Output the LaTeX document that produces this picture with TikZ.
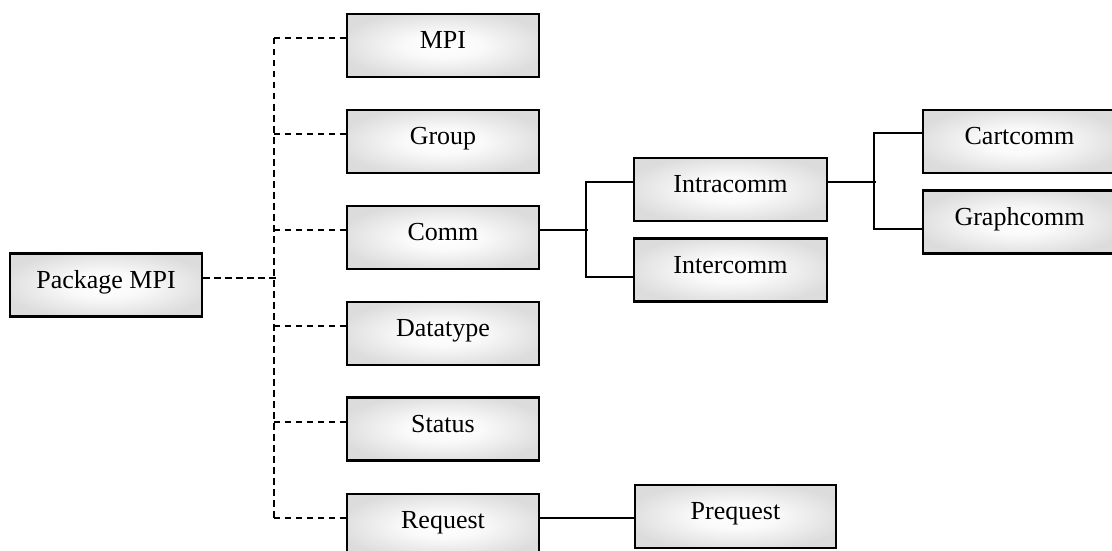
\documentclass[tikz,border=0pt]{standalone}
\usepackage{fontspec}
\setmainfont{Liberation Serif}
\usetikzlibrary{calc}

\definecolor{boxgray}{RGB}{220,220,220}
\pgfdeclareradialshading{boxglow}{\pgfpoint{0bp}{0bp}}{%
  color(0bp)=(white); color(10bp)=(white!85!boxgray); color(28bp)=(boxgray); color(50bp)=(boxgray)}

\tikzset{
  classbox/.style={draw, line width=2.1pt, shading=boxglow, inner sep=0pt,
    minimum width=192pt, minimum height=63pt, text height=18pt, text depth=11.5pt,
    font=\fontsize{26}{30}\selectfont},
  usesline/.style={line width=2pt, dash pattern=on 6.5pt off 4.5pt},
  extendsline/.style={line width=2pt}
}

\begin{document}
\begin{tikzpicture}[x=1pt, y=-1pt]
  \useasboundingbox (0,0) rectangle (1112,551);
  \clip (0,0) rectangle (1112,551);

  % package and its classes
  \node[classbox] (pkg) at (106,285) {Package MPI};
  \node[classbox] (mpi) at (443,45.5) {MPI};
  \node[classbox] (grp) at (443,141.5) {Group};
  \node[classbox] (comm) at (443,237.5) {Comm};
  \node[classbox] (dtype) at (443,333.5) {Datatype};
  \node[classbox] (stat) at (443,429) {Status};
  \node[classbox] (req) at (443,525.5) {Request};

  % subclasses
  \node[classbox, minimum width=193pt] (intra) at (730.5,189.5) {Intracomm};
  \node[classbox, minimum width=193pt] (inter) at (730.5,270) {Intercomm};
  \node[classbox, minimum width=193pt] (cart) at (1019.5,141.5) {Cartcomm};
  \node[classbox, minimum width=193pt] (graph) at (1019.5,222) {Graphcomm};
  \node[classbox, minimum width=201pt] (preq) at (735.5,516.5) {Prequest};

  % dashed tree from the package to its classes
  \coordinate (trunk) at ($(pkg.east)+(73,-7)$);
  \draw[usesline] ($(pkg.east)+(0,-7)$) -- (trunk);
  \draw[usesline] ($(mpi.west)+(-72,-7.5)$) -- ($(req.west)+(-72,-7.5)$);
  \foreach \cls in {mpi,grp,comm,dtype,stat,req}
    \draw[usesline] ($(\cls.west)+(-72,-7.5)$) -- ($(\cls.west)+(0,-7.5)$);

  % solid inheritance lines
  \draw[extendsline] ($(comm.east)+(0,-8)$) -- ++(48,0);
  \draw[extendsline] ($(intra.west)+(0,-7.5)$) -- ++(-47,0) |- ($(inter.west)+(0,7)$);
  \draw[extendsline] ($(intra.east)+(0,-7.5)$) -- ++(48,0);
  \draw[extendsline] ($(cart.west)+(0,-8.5)$) -- ++(-48,0) |- ($(graph.west)+(0,7)$);
  \draw[extendsline] ($(req.east)+(0,-7.5)$) -- ($(preq.west)+(0,1.5)$);
\end{tikzpicture}
\end{document}
